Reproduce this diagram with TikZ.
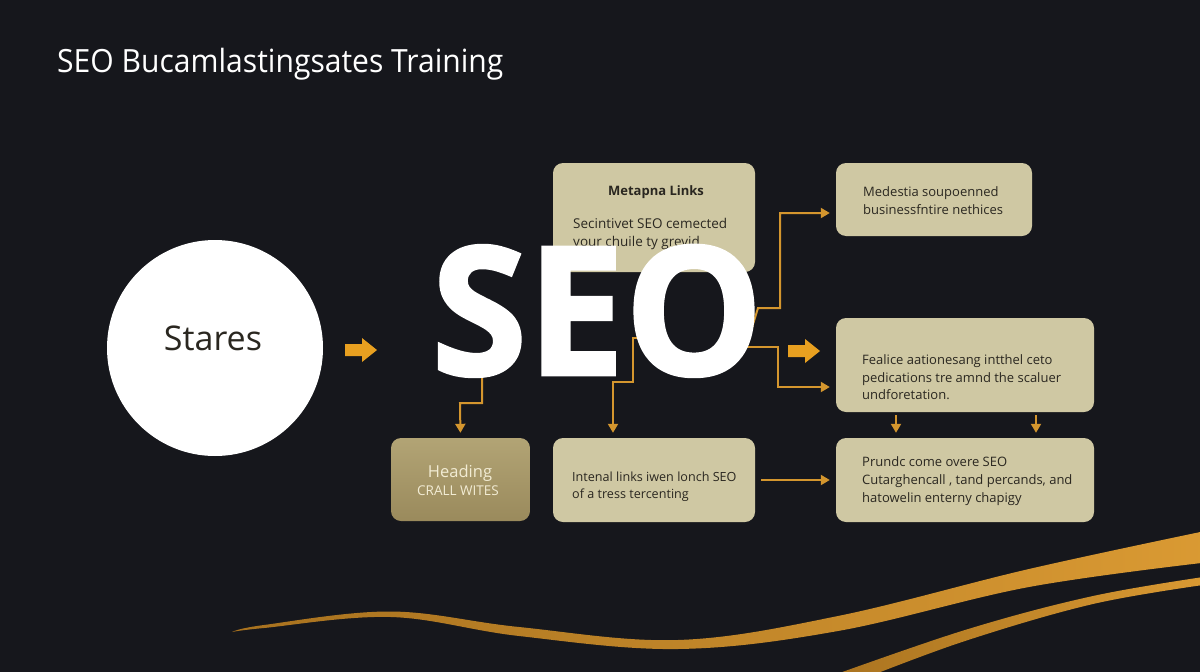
\documentclass[tikz,border=0pt]{standalone}
\usepackage{fontspec}
\setmainfont{Open Sans}
\newfontfamily\titlefont[FakeStretch=0.94]{Open Sans}
\newfontfamily\seofont[FakeBold=1.6]{Open Sans Bold}
\usetikzlibrary{arrows.meta}
\definecolor{bg}{HTML}{16171C}
\definecolor{beige}{HTML}{CFC8A3}
\definecolor{goldtop}{HTML}{B2A475}
\definecolor{goldbot}{HTML}{9A8A5C}
\definecolor{wire}{HTML}{D4962E}
\definecolor{blockor}{HTML}{E8A020}
\definecolor{ink}{HTML}{2A2720}
\definecolor{paleink}{HTML}{F2ECD4}
\definecolor{ribL}{HTML}{A8721F}
\definecolor{ribR}{HTML}{DA9A33}
\begin{document}
\begin{tikzpicture}[x=1pt,y=-1pt,
  box/.style={draw=none,fill=beige,rounded corners=10pt,inner sep=0},
  wirestyle/.style={draw=wire,line width=2pt,-{Triangle[length=9pt,width=10pt]}},
  bodytext/.style={font=\fontsize{13}{17}\selectfont,text=ink,anchor=base west,inner sep=0},
  blockarrow/.style={fill=blockor,draw=none}
]
\useasboundingbox (0,0) rectangle (1200,672);
\fill[bg] (0,0) rectangle (1200,672);

% title
\node[anchor=base west,inner sep=0,text=white,font=\titlefont\fontsize{32}{36}\selectfont] (title) at (57,72.5) {SEO Bucamlastingsates Training};

% circle
\node[circle,fill=white,minimum size=216pt,inner sep=0] (circ) at (215,348) {};
\node[text=ink,font=\fontsize{34}{40}\selectfont,inner sep=0,anchor=base] (circtext) at (213,350) {Stares};

% boxes
\node[box,minimum width=202pt,minimum height=109pt] (meta) at (654,217.5) {};
\node[box,minimum width=196pt,minimum height=73pt] (topright) at (934,199.5) {};
\node[box,minimum width=258pt,minimum height=94pt] (midright) at (965,365) {};
\node[box,minimum width=258pt,minimum height=84pt] (botright) at (965,480) {};
\node[box,fill=none,top color=goldtop,bottom color=goldbot,minimum width=139pt,minimum height=83pt] (heading) at (460.5,479.5) {};
\node[box,minimum width=202pt,minimum height=84pt] (intenal) at (654,480) {};

% box texts
\node[bodytext,anchor=base,font=\bfseries\fontsize{13}{17}\selectfont] (metaT) at (656,195) {Metapna Links};
\node[bodytext,font=\fontsize{13.5}{17}\selectfont] (metaA) at (573,228.5) {Secintivet SEO cemected};
\node[bodytext,font=\fontsize{13.5}{17}\selectfont] (metaB) at (573,246) {your chuile ty grevid};
\node[bodytext,font=\fontsize{13.5}{17}\selectfont] (metaC) at (573,264) {cetrall};

\node[bodytext] (trA) at (863,196) {Medestia soupoenned};
\node[bodytext] (trB) at (863,214) {businessfntire nethices};

\node[bodytext] (mrA) at (862,364) {Fealice aationesang intthel ceto};
\node[bodytext] (mrB) at (862,382) {pedications tre amnd the scaluer};
\node[bodytext] (mrC) at (862,399) {undforetation.};

\node[bodytext] (brA) at (862,466) {Prundc come overe SEO};
\node[bodytext] (brB) at (862,484) {Cutarghencall , tand percands, and};
\node[bodytext] (brC) at (862,502) {hatowelin enterny chapigy};

\node[bodytext,font=\fontsize{12.6}{17}\selectfont] (inA) at (572,481) {Intenal links iwen lonch SEO};
\node[bodytext,font=\fontsize{12.6}{17}\selectfont] (inB) at (572,498) {of a tress tercenting};

\node[bodytext,anchor=base,text=paleink,font=\fontsize{16.5}{18}\selectfont] (hdA) at (460,477) {Heading};
\node[bodytext,anchor=base,text=paleink,font=\fontsize{13.5}{18}\selectfont] (hdB) at (458,495) {CRALL WITES};

% connector anchor points
\coordinate (s1) at (482,372);
\coordinate (s2) at (648,338);
\coordinate (k2) at (613,382);
\coordinate (s3) at (750,334);
\coordinate (t3) at (780,213);
\coordinate (s4) at (745,347);
\coordinate (t4) at (778,387);
\coordinate (k6) at (896,0);
\coordinate (k7) at (1036,0);

% connectors
\draw[wirestyle,shorten >=5pt] (s1) -- (482,403) -- (460,403) -- (heading.north);
\draw[wirestyle,shorten >=5pt] (s2) -- (633,338) -- (633,382) -- (k2) -- (k2 |- intenal.north);
\draw[wirestyle,shorten >=6pt] (s3) -- (758,308) -- (780,308) -- (t3) -- (t3 -| topright.west);
\draw[wirestyle,shorten >=6pt] (s4) -- (t4 |- s4) -- (t4) -- (t4 -| midright.west);
\draw[wirestyle,shorten <=6pt,shorten >=6pt] (intenal.east) -- (intenal.east -| botright.west);
\draw[wirestyle,shorten <=3pt,shorten >=5pt] (k6 |- midright.south) -- (k6 |- botright.north);
\draw[wirestyle,shorten <=3pt,shorten >=5pt] (k7 |- midright.south) -- (k7 |- botright.north);

% block arrows
\fill[blockor] (345,344) -- (362,344) -- (362,338) -- (377,350) -- (362,362) -- (362,356) -- (345,356) -- cycle;
\fill[blockor] (788,345) -- (805,345) -- (805,339) -- (820,351) -- (805,363) -- (805,357) -- (788,357) -- cycle;

% big SEO
\node[anchor=south west,inner sep=0,text=white] (seo) at (431,377) {\resizebox{332pt}{130pt}{\seofont SEO}};

% ribbons
\path[left color=ribL,right color=ribR]
  plot[smooth,tension=0.6] coordinates {(232,632) (264,625) (391,611.5) (519,627) (678,640) (838,616) (1029,569) (1210,530)}
  -- plot[smooth,tension=0.6] coordinates {(1210,562) (1029,587) (838,631) (678,649) (519,636) (391,617) (264,628) (232,632)} -- cycle;
\path[left color=ribL,right color=ribR]
  plot[smooth,tension=0.6] coordinates {(820,680) (965,630) (1093,596) (1210,576)}
  -- plot[smooth,tension=0.6] coordinates {(1210,584) (1093,604) (965,641) (860,680)} -- cycle;
\end{tikzpicture}
\end{document}
